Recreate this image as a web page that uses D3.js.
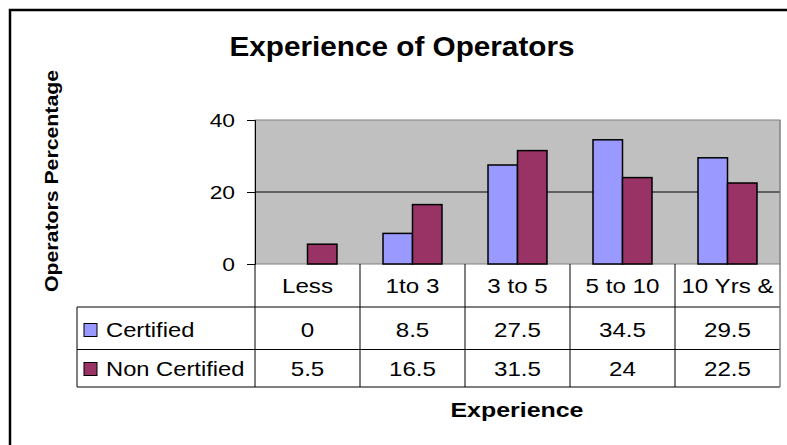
<!DOCTYPE html>
<html><head><meta charset="utf-8">
<script src="https://cdn.jsdelivr.net/npm/d3@7"></script>
<style>body{margin:0;background:#fff;overflow:hidden} text{font-family:"Liberation Sans",Arial,Helvetica,sans-serif;fill:#000}</style>
</head><body><svg id="c" width="787" height="445"></svg>
<script>
const categories = ["Less", "1to 3", "3 to 5", "5 to 10", "10 Yrs &"];
const seriesNames = ["Certified", "Non Certified"];
const certified = [0, 8.5, 27.5, 34.5, 29.5];
const nonCertified = [5.5, 16.5, 31.5, 24, 22.5];
const seriesColors = ["#9999ff", "#993366"];
const yTicks = [0, 20, 40];
const titleText = "Experience of Operators";
const yTitle = "Operators Percentage";
const xTitle = "Experience";

const seriesValues = [certified, nonCertified];
const svg = d3.select("#c");

// widen glyphs horizontally to match the reference's wide face
function stretch(sel, k) {
  sel.each(function () {
    const w = this.getComputedTextLength();
    d3.select(this).attr("textLength", w * k).attr("lengthAdjust", "spacingAndGlyphs");
  });
}

// outer frame (top and left edges visible)
svg.append("path").attr("d", "M10,445 L10,10 L787,10").attr("fill", "none").attr("stroke", "#000").attr("stroke-width", 2.5);

const plotL = 255, plotR = 780, plotT = 120, plotB = 264;
const x = d3.scaleBand().domain(categories).range([plotL, plotR]).padding(0);
const x1 = d3.scaleBand().domain(seriesNames).range([0, x.bandwidth()]).paddingInner(0).paddingOuter(0.78);
const y = d3.scaleLinear().domain([0, 40]).range([plotB, plotT]);

// plot background
svg.append("rect").attr("x", plotL).attr("y", plotT).attr("width", plotR - plotL).attr("height", plotB - plotT)
  .attr("fill", "#c0c0c0").attr("stroke", "#808080").attr("stroke-width", 1);

// gridlines
svg.append("g").selectAll("line").data(yTicks.filter(t => t > 0 && t < 40)).join("line")
  .attr("x1", plotL).attr("x2", plotR).attr("y1", d => y(d)).attr("y2", d => y(d))
  .attr("stroke", "#000").attr("stroke-width", 1);

// bars
const groups = svg.append("g").selectAll("g").data(categories).join("g")
  .attr("transform", d => `translate(${x(d)},0)`);
groups.selectAll("rect").data((d, i) => seriesNames.map((s, j) => ({s, v: seriesValues[j][i], j})))
  .join("rect")
  .filter(d => d.v > 0)
  .attr("x", d => x1(d.s)).attr("width", x1.bandwidth())
  .attr("y", d => y(d.v)).attr("height", d => y(0) - y(d.v))
  .attr("fill", d => seriesColors[d.j]).attr("stroke", "#000").attr("stroke-width", 1.5);

// y axis
const yAxis = d3.axisLeft(y).tickValues(yTicks).tickSize(8).tickPadding(12).tickFormat(d3.format("d"));
const ya = svg.append("g").attr("transform", `translate(${plotL},0)`).call(yAxis);
ya.select(".domain").attr("stroke", "#000");
ya.selectAll(".tick line").attr("stroke", "#000");
ya.selectAll(".tick text").attr("font-size", 19).attr("font-family", "Liberation Sans, Arial, sans-serif").attr("fill", "#000");
stretch(ya.selectAll(".tick text"), 1.2);

// data table
const rowH = [plotB, 307, 349.5, 387];
const legL = 77;
const tbl = svg.append("g").attr("stroke", "#000").attr("stroke-width", 1);
[rowH[1], rowH[2], rowH[3]].forEach(yy => tbl.append("line").attr("x1", legL).attr("x2", plotR).attr("y1", yy).attr("y2", yy));
tbl.append("line").attr("x1", legL).attr("x2", legL).attr("y1", rowH[1]).attr("y2", rowH[3]);
const bounds = categories.map(c => x(c)).concat([plotR]);
tbl.selectAll(".vb").data(bounds).join("line").attr("class", "vb")
  .attr("x1", d => d).attr("x2", d => d).attr("y1", plotB).attr("y2", rowH[3])
  .attr("stroke", (d, i) => i === bounds.length - 1 ? "#808080" : "#000");
tbl.append("line").attr("x1", plotR).attr("x2", plotR).attr("y1", plotT).attr("y2", rowH[3]).attr("stroke", "#808080");

// header labels
const hdr = svg.append("g").selectAll("text").data(categories).join("text")
  .attr("x", d => x(d) + x.bandwidth() / 2).attr("y", 293)
  .attr("text-anchor", "middle").attr("font-size", 21).text(d => d);
stretch(hdr, 1.15);

// rows
const rowBase = [336.5, 375.5];
seriesNames.forEach((s, j) => {
  const g = svg.append("g");
  g.append("rect").attr("x", 84).attr("y", rowBase[j] - 13).attr("width", 13).attr("height", 13)
    .attr("fill", seriesColors[j]).attr("stroke", "#000").attr("stroke-width", 1);
  const lab = g.append("text").attr("x", 106).attr("y", rowBase[j]).attr("font-size", 21).text(s);
  stretch(lab, 1.13);
  const vals = g.selectAll(".v").data(seriesValues[j]).join("text").attr("class", "v")
    .attr("x", (d, i) => x(categories[i]) + x.bandwidth() / 2).attr("y", rowBase[j])
    .attr("text-anchor", "middle").attr("font-size", 21).text(d => d);
  stretch(vals, 1.15);
});

// titles
svg.append("text").attr("x", 402).attr("y", 56).attr("text-anchor", "middle")
  .attr("font-size", 28).attr("font-weight", "bold").attr("textLength", 345).attr("lengthAdjust", "spacingAndGlyphs").text(titleText);
svg.append("text").attr("transform", "translate(58,181) rotate(-90)").attr("text-anchor", "middle")
  .attr("font-size", 18).attr("font-weight", "bold").attr("textLength", 222).attr("lengthAdjust", "spacingAndGlyphs").text(yTitle);
svg.append("text").attr("x", 517).attr("y", 417).attr("text-anchor", "middle")
  .attr("font-size", 21).attr("font-weight", "bold").attr("textLength", 133).attr("lengthAdjust", "spacingAndGlyphs").text(xTitle);
</script></body></html>
